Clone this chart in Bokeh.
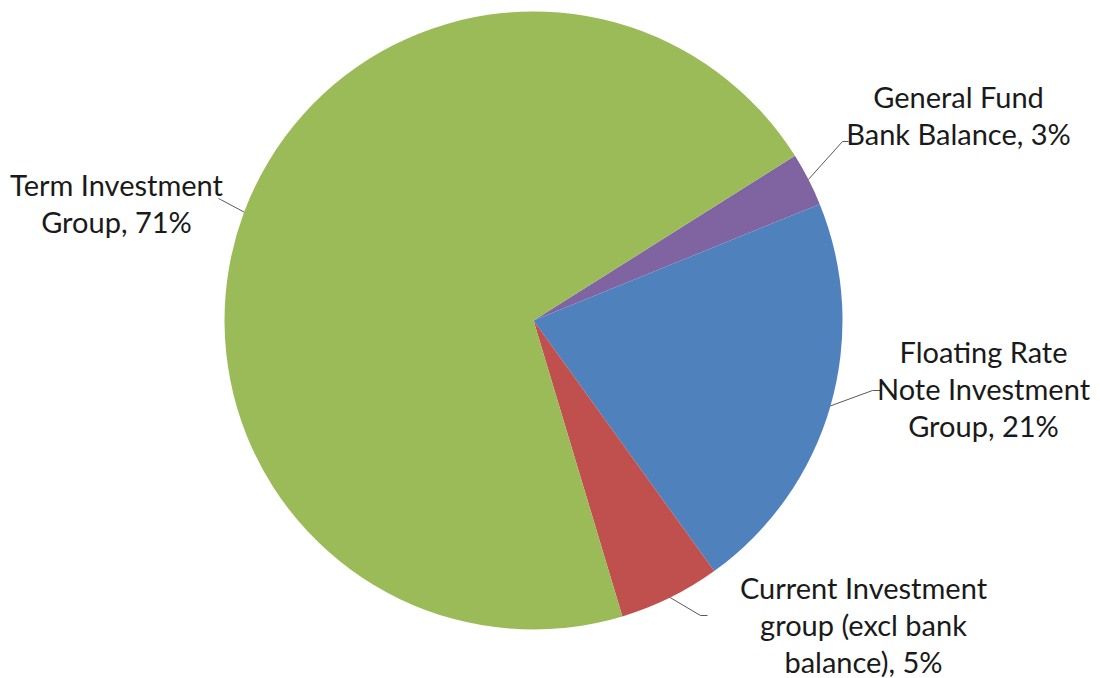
import math
from bokeh.plotting import figure
from bokeh.models import ColumnDataSource
from bokeh.core.properties import value
from bokeh.embed import file_html
from bokeh.resources import INLINE

# ---- data ----
categories = ["General Fund\nBank Balance", "Floating Rate\nNote Investment\nGroup",
              "Current Investment\ngroup (excl bank\nbalance)", "Term Investment\nGroup"]
shares = [2.8, 21.2, 5.3, 70.7]
colors = ["#8064A2", "#4F81BD", "#C0504D", "#9BBB59"]

# ---- layout (pixels) ----
W, H = 1100, 678
cx, cy_px, R = 533, 320, 309
cy = H - cy_px
start_deg = 32.2  # first slice begins here, going clockwise
line_gap = 37

# label text centres (px, top-down) and leader-line elbow points
label_xy = [(958, 114), (983, 388), (863, 624), (116, 202)]
elbow = [[(842, 141), (848, 141)], [(872, 390), (880, 390)],
         [(700, 615), (707, 615)], [(220, 199), (218, 198)]]

total = sum(shares)
starts, ends, mids = [], [], []
acc = 0.0
for s in shares:
    a0 = math.radians(start_deg) - acc / total * 2 * math.pi
    acc += s
    a1 = math.radians(start_deg) - acc / total * 2 * math.pi
    starts.append(a1)
    ends.append(a0)
    mids.append((a0 + a1) / 2)

p = figure(width=W, height=H, x_range=(0, W), y_range=(0, H),
           output_backend="svg", toolbar_location=None, min_border=0)
p.axis.visible = False
p.grid.visible = False
p.outline_line_color = None
p.background_fill_color = "white"

src = ColumnDataSource(dict(x=[cx] * 4, y=[cy] * 4, s=starts, e=ends, c=colors))
p.wedge(x="x", y="y", radius=R, start_angle="s", end_angle="e", direction="anticlock",
        fill_color="c", line_color=None, source=src)

# leader lines
for m, el in zip(mids, elbow):
    xs = [cx + R * math.cos(m)] + [pt[0] for pt in el]
    ys = [cy + R * math.sin(m)] + [H - pt[1] for pt in el]
    p.line(xs, ys, line_color="#595959", line_width=1)

labels = [f"{c}, {round(s)}%" for c, s in zip(categories, shares)]
tx, ty, tt = [], [], []
for lab, (lx, ly) in zip(labels, label_xy):
    lines = lab.split("\n")
    n = len(lines)
    for i, ln in enumerate(lines):
        tx.append(lx)
        ty.append(H - (ly + (i - (n - 1) / 2) * line_gap))
        tt.append(ln)
p.text(x=tx, y=ty, text=tt,
       text_font=value("Lato"), text_font_size="29px", text_color="#1a1a1a",
       text_align="center", text_baseline="middle")

open("out.html", "w").write(file_html(p, INLINE))
